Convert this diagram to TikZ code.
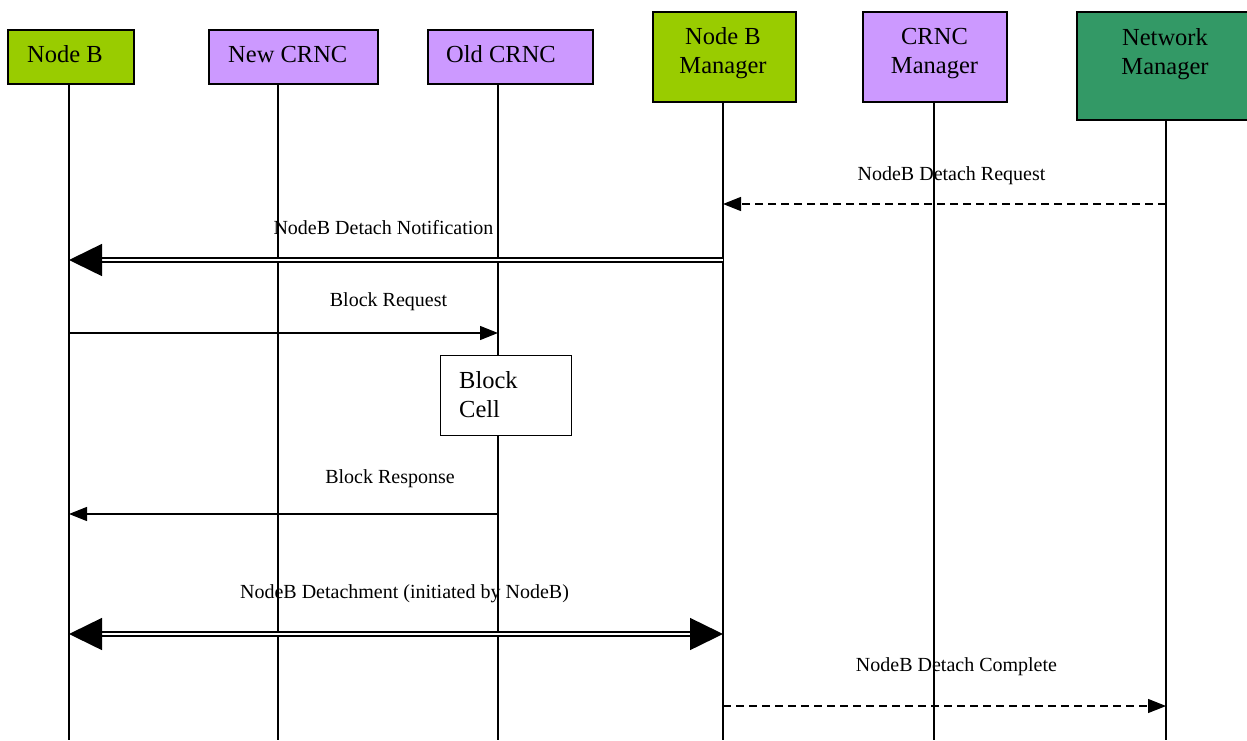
\documentclass[tikz,border=0pt]{standalone}
\usepackage{fontspec}
\setmainfont{Liberation Serif}
\usetikzlibrary{arrows.meta}
\definecolor{nbgreen}{HTML}{99CC00}
\definecolor{crncpurple}{HTML}{CC99FF}
\definecolor{nmgreen}{HTML}{339966}
\begin{document}
\begin{tikzpicture}[x=1pt,y=-1pt,
  hbox/.style={draw, line width=1.5pt, inner sep=0pt, anchor=north west},
  htext/.style={inner sep=0pt, font=\fontsize{24.5}{29}\selectfont},
  lbl/.style={inner sep=0pt, anchor=base, font=\fontsize{20}{24}\selectfont},
  life/.style={line width=1.4pt},
  smsg/.style={line width=1.3pt, -{Triangle[length=18pt,width=14pt]}},
  dmsg/.style={line width=1.3pt, dash pattern=on 8pt off 5pt, -{Triangle[length=18pt,width=14pt]}},
  bmsg/.style={line width=1.5pt, double, double distance=2.5pt}
]
\useasboundingbox (0,0) rectangle (1247,740);
\clip (0,0) rectangle (1247,740);
\fill[white] (0,0) rectangle (1247,740);

% header boxes
\node[hbox, fill=nbgreen, minimum width=126pt, minimum height=54pt] (nodeb) at (7,29) {};
\node[hbox, fill=crncpurple, minimum width=169pt, minimum height=54pt] (newcrnc) at (208,29) {};
\node[hbox, fill=crncpurple, minimum width=165pt, minimum height=54pt] (oldcrnc) at (427,29) {};
\node[hbox, fill=nbgreen, minimum width=143pt, minimum height=90pt] (nbm) at (652,11) {};
\node[hbox, fill=crncpurple, minimum width=144pt, minimum height=90pt] (crncm) at (862,11) {};
\node[hbox, fill=nmgreen, minimum width=180pt, minimum height=108pt] (nm) at (1076,11) {};

% header texts
\node[htext, anchor=base west] (nodebT) at (27,62) {Node B};
\node[htext, anchor=base west] (newcrncT) at (228,62) {New CRNC};
\node[htext, anchor=base west] (oldcrncT) at (446,62) {Old CRNC};
\node[htext, anchor=north, align=center] (nbmT) at (723,27.6) {Node B\\Manager};
\node[htext, anchor=north, align=center] (crncmT) at (934.5,28.3) {CRNC\\Manager};
\node[htext, anchor=north, align=center] (nmT) at (1165,28.3) {Network\\Manager};

% message labels
\node[lbl] (l1) at (951.5,180) {NodeB Detach Request};
\node[lbl] (l2) at (383.5,234) {NodeB Detach Notification};
\node[lbl] (l3) at (388.5,306.5) {Block Request};
\node[lbl] (l4) at (390,483) {Block Response};
\node[lbl] (l5) at (404.5,598) {NodeB Detachment (initiated by NodeB)};
\node[lbl] (l6) at (956.5,671) {NodeB Detach Complete};

% lifeline bottoms
\coordinate (nbB) at (69,740);
\coordinate (ncB) at (278,740);
\coordinate (ocB) at (498,740);
\coordinate (nbmB) at (723,740);
\coordinate (cmB) at (934,740);
\coordinate (nmB) at (1166,740);

\draw[life] (nodeb.south -| nbB) -- (nbB);
\draw[life] (newcrnc.south -| ncB) -- (ncB);
\draw[life] (oldcrnc.south -| ocB) -- (ocB);
\draw[life] (nbm.south -| nbmB) -- (nbmB);
\draw[life] (crncm.south -| cmB) -- (cmB);
\draw[life] (nm.south -| nmB) -- (nmB);

% Block Cell
\node[draw, fill=white, line width=1.3pt, inner sep=0pt, anchor=north west,
      minimum width=131pt, minimum height=80pt] (blockcell) at (440,355) {};
\node[htext, anchor=north west, align=left] (blockcellT) at (459,371.3) {Block\\Cell};

% message points
\coordinate (m1s) at (1166,204); \coordinate (m1e) at (723,204);
\coordinate (m2s) at (723,260); \coordinate (m2e) at (69,260);
\coordinate (m3s) at (69,333);  \coordinate (m3e) at (498,333);
\coordinate (m4s) at (498,514); \coordinate (m4e) at (69,514);
\coordinate (m5s) at (69,634);  \coordinate (m5e) at (723,634);
\coordinate (m6s) at (723,706); \coordinate (m6e) at (1166,706);

\draw[dmsg] (m1s) -- (m1e);
\draw[bmsg, -{Triangle[length=33pt,width=32pt]}] (m2s) -- (m2e);
\draw[smsg] (m3s) -- (m3e);
\draw[smsg] (m4s) -- (m4e);
\draw[bmsg, {Triangle[length=33pt,width=32pt]}-{Triangle[length=33pt,width=32pt]}] (m5s) -- (m5e);
\draw[dmsg] (m6s) -- (m6e);
\end{tikzpicture}
\end{document}
